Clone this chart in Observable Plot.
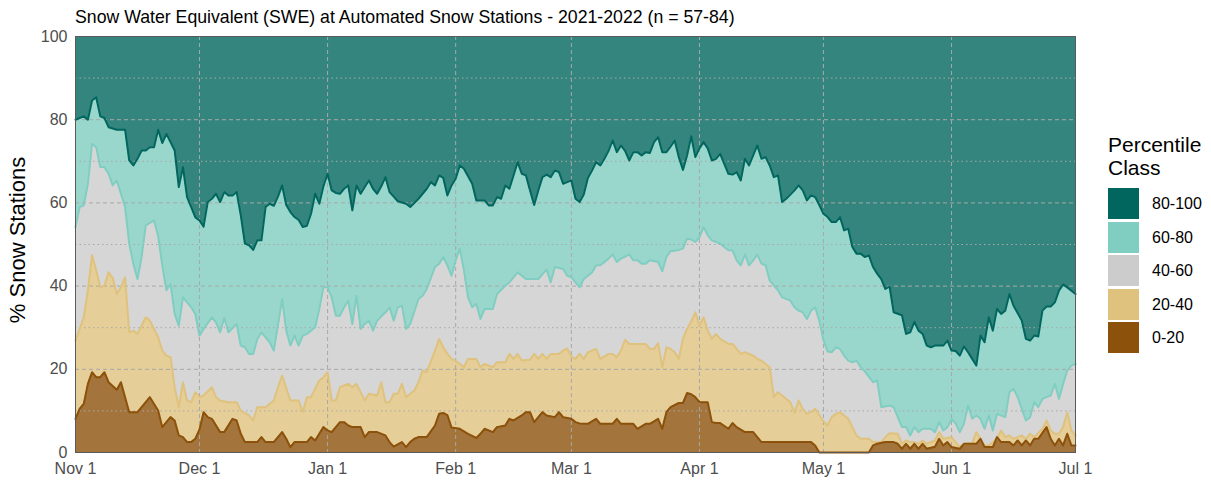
<!DOCTYPE html>
<html><head><meta charset="utf-8">
<script src="https://cdn.jsdelivr.net/npm/d3@7"></script>
<script src="https://cdn.jsdelivr.net/npm/@observablehq/plot@0.6"></script>
<style>
body{margin:0;background:#fff;font-family:"Liberation Sans",Arial,sans-serif;}
#wrap{position:relative;width:1211px;height:480px;overflow:hidden;}
#title{position:absolute;left:75px;top:8px;font-size:17.7px;color:#000;white-space:nowrap;line-height:18px;}
#ylab{position:absolute;left:18px;top:240px;font-size:22px;color:#000;white-space:nowrap;transform:translate(-50%,-50%) rotate(-90deg);}
.lt{position:absolute;left:1108px;font-size:21px;line-height:21px;color:#000;white-space:nowrap;}
.sw{position:absolute;left:1108px;width:31px;height:31px;}
.sl{position:absolute;left:1152px;font-size:16px;line-height:31px;color:#000;white-space:nowrap;}
#chart{position:absolute;left:0;top:0;}
</style></head>
<body><div id="wrap"><div id="chart"></div></div>
<script>
// ---- data: cumulative % of stations at the top of each class (x = days since 2021-11-01)
const startDate = "2021-11-01";
const classes = ["80-100","60-80","40-60","20-40","0-20"];
const classColors = ["#01665e","#80cdc1","#cccccc","#dfc27d","#8c510a"];
const monthTicks = ["2021-11-01","2021-12-01","2022-01-01","2022-02-01","2022-03-01","2022-04-01","2022-05-01","2022-06-01","2022-07-01"];
const yTicks = [0,20,40,60,80,100];
const yMinor = [10,30,50,70,90];

// top of 60-80 class (cumulative 0-80)
const edge80 = [[0,80],[1,80.4],[2,80.8],[3,80],[4,84.6],[5,85.4],[6,80.8],[7,80.4],[8,78.2],[10,77.6],[12,77.6],[13,70.2],[14,69],[15,70.6],[16,72.6],[17,72.6],[18,73.4],[19,73.4],[20,77.6],[21,74.4],[22,76.6],[24,72.6],[25,63.8],[26,68.6],[27,61.4],[28,59],[29,56.5],[30,55.8],[31,54.3],[32,60.2],[33,61],[34,62.2],[35,60.2],[36,62.6],[37,61.8],[38,61.8],[39,62.6],[40,57],[41,50.2],[42,49.8],[43,48.7],[44,51],[45,51],[46,59],[47,59.8],[48,59.3],[49,61.5],[50,64.2],[51,59.5],[52,57.8],[53,56.6],[54,55.9],[55,54.2],[56,54.5],[57,57.4],[58,62.2],[59,59.8],[60,64],[61,67],[62,63],[63,62.4],[64,62.2],[65,63.4],[66,64.2],[67,58.2],[68,64.2],[69,62.2],[70,63.8],[71,65.4],[72,63.4],[73,62.2],[74,64],[75,66.2],[76,62.6],[77,61.5],[78,60.4],[80,59.8],[81,59],[83,61],[85,63.4],[86,65],[87,64.2],[88,66.6],[89,66],[90,61.8],[91,64.2],[92,65.8],[93,69],[94,68.2],[96,64.6],[97,60.6],[99,60.6],[100,59.4],[101,59.4],[102,61.4],[103,61],[104,64.2],[105,63.4],[107,69.8],[108,67],[109,66.6],[110,63],[111,59.5],[112,63],[113,66.2],[114,66.8],[115,66.2],[116,67.8],[117,67.4],[118,64.6],[119,65],[120,65.4],[121,61],[122,60.2],[123,62],[124,66],[125,67.8],[126,69.8],[127,69],[128,70.6],[129,72.5],[130,75],[131,72.2],[132,73.8],[133,72.5],[134,70.2],[135,72.2],[136,72.2],[137,71.4],[138,72.2],[139,72],[140,74.6],[141,75.8],[142,72.2],[143,72.2],[144,73.5],[145,75],[146,71],[147,67.9],[148,71.4],[149,76],[150,71],[151,73.1],[152,74.6],[153,73.1],[154,70.2],[155,70.6],[156,71.8],[157,69.4],[158,67],[159,66.8],[160,67.4],[161,65.4],[162,70.6],[163,69],[164,71.4],[165,73.8],[166,70.6],[167,71],[168,69],[169,66.2],[170,66.6],[171,60.2],[172,61],[173,62],[174,63],[175,64.2],[176,63],[177,60.6],[178,61.8],[179,61.4],[180,59.5],[181,57.4],[182,56.6],[183,55.4],[184,55.4],[185,56.6],[186,53.4],[187,53.8],[188,49.4],[189,47.8],[190,47.8],[191,47],[192,47.4],[193,44.6],[194,43],[195,41.7],[196,39.3],[197,39.9],[198,33.7],[200,33],[201,28.5],[202,28.9],[203,31.4],[204,29.3],[205,28.5],[206,25.7],[207,25.3],[208,25.7],[210,25.7],[211,26.9],[212,24.5],[213,24.4],[214,23.3],[215,25.5],[216,24.1],[217,22.5],[218,20.9],[219,28.1],[220,26.5],[221,32.5],[222,29.3],[223,34.5],[224,33.3],[225,34.1],[226,38.1],[227,35.3],[229,31.7],[230,27.3],[231,26.9],[232,28.1],[233,27.9],[234,34.1],[235,35.1],[236,35.1],[237,36.1],[238,38.9],[239,40.4],[240,39.7],[242,38.1]];

// top of 40-60 class (cumulative 0-60)
const edge60 = [[0,54.2],[1,59],[2,59.4],[3,64.6],[4,74.2],[5,73.4],[6,68.6],[7,68.6],[8,67],[9,64.2],[10,65.4],[12,59],[13,50.2],[14,45.4],[15,41.7],[16,47],[17,54.6],[19,55.8],[20,52],[21,45],[22,39],[23,40.5],[24,33.3],[25,30.5],[26,37.3],[28,34.9],[29,33.3],[30,28.1],[31,29.7],[33,32.5],[34,31.3],[35,28.9],[36,32.4],[37,28.9],[39,30.9],[40,25.7],[41,25.3],[42,23.7],[43,23.7],[44,27.3],[45,28.9],[47,26.5],[48,24.5],[50,36.9],[51,29.3],[52,25.7],[53,28.1],[54,25.7],[55,28.1],[56,28.5],[58,30.1],[59,34.5],[60,39.7],[61,39.7],[62,37.3],[63,32.9],[64,32.9],[65,34.9],[66,36.5],[67,30.9],[68,37.7],[69,29.7],[70,30.9],[71,31.7],[72,29.3],[73,31.7],[75,33.7],[76,34.9],[77,31.7],[78,34.9],[79,35.3],[80,29.7],[81,30.9],[83,36.9],[84,37.7],[85,39.3],[87,44.6],[88,45.4],[89,47],[90,45],[91,42.5],[92,46.2],[93,49],[94,43.8],[95,37.3],[96,34.9],[97,35.7],[98,32.1],[99,34.5],[101,34.5],[102,38.1],[104,40.1],[105,40.9],[107,43.3],[109,41.7],[112,41.7],[114,44],[115,40.9],[116,44.6],[118,44.1],[119,42.5],[120,42.1],[121,40.9],[122,39.7],[123,41.7],[125,43.3],[126,45],[127,45],[129,46.6],[130,47.6],[131,45.8],[132,46.6],[134,47.6],[135,46.2],[136,46.2],[137,45.4],[138,45.4],[139,46.2],[141,45.8],[142,43.6],[143,47],[144,48.4],[146,48.7],[147,49],[148,51.4],[149,51.2],[150,50.6],[151,51.8],[152,54.2],[153,52.2],[154,51],[156,50.2],[157,49.4],[158,48.6],[159,48.6],[160,46.2],[161,45],[162,47.6],[163,45],[164,46.2],[165,47.6],[166,45.4],[167,45],[168,41.3],[170,39],[171,37.3],[173,36.5],[174,34.9],[175,34.1],[176,33.7],[177,32.1],[178,34.1],[179,34.9],[180,31.7],[181,27],[182,24.3],[183,24.1],[184,25.3],[185,24.9],[186,23.3],[187,22.1],[188,21.7],[189,22.1],[190,20.5],[191,19.5],[193,16.9],[194,17.3],[195,10.9],[197,11.3],[198,10.9],[199,8.5],[200,6.1],[201,6.1],[202,4.1],[203,6.1],[204,4.9],[205,5.7],[207,5.7],[208,4.9],[209,7.3],[210,5.3],[211,6.1],[212,8],[213,7],[214,4.9],[215,6.9],[216,11.3],[217,8.1],[218,8.9],[219,8.1],[220,5.7],[221,8.9],[222,5.3],[223,9.3],[225,8.5],[226,14.5],[227,15.3],[228,13.3],[229,10.5],[230,7.7],[231,8.5],[232,12.1],[233,10.9],[234,12.9],[235,13.3],[236,13.7],[237,16.5],[238,12.9],[239,16.5],[240,19.7],[241,20.9],[242,21.3]];

// top of 20-40 class (cumulative 0-40)
const edge40 = [[0,26.9],[2,32.5],[3,39],[4,47.4],[5,43.8],[6,39.7],[7,40.1],[8,43.3],[9,42],[10,38.1],[11,39.7],[12,42.1],[13,28.9],[14,29.3],[15,28.5],[16,30.5],[17,32.5],[18,31.7],[20,27.7],[21,24.5],[22,23.3],[23,22.9],[24,15.7],[25,10.9],[26,16.9],[27,12.5],[28,12.1],[29,14.5],[30,13.3],[31,13.7],[33,15.7],[34,13.3],[35,12.5],[37,12.1],[39,12.1],[40,10.1],[42,8.9],[43,7.7],[44,10.9],[46,10.9],[48,12.5],[49,15.7],[50,18.5],[52,12.5],[54,12.5],[55,9.7],[56,13.3],[57,13.3],[59,17.3],[60,18.1],[61,19.3],[62,12.5],[63,12.5],[64,15.7],[65,16.1],[66,16.5],[67,15.7],[68,16.5],[69,14.5],[70,12.5],[71,14.1],[73,13.7],[74,16.9],[75,12.1],[76,12.1],[77,14.1],[78,14.1],[79,16.5],[80,13.3],[82,14.9],[83,16.9],[84,19.7],[85,19.3],[87,24.5],[88,27.3],[89,25.3],[90,23.7],[91,22.5],[92,22],[93,21.3],[94,20.5],[95,22.5],[97,22.5],[98,20.5],[99,21.3],[101,20.5],[102,21.7],[104,21.7],[105,23.7],[106,22.5],[107,23.7],[108,22.1],[110,22.3],[111,23.7],[112,22.5],[113,23.7],[114,22.5],[115,23.7],[117,23.7],[118,24.5],[119,25],[120,23],[121,22.5],[122,23.7],[123,22.5],[124,24.1],[126,24.9],[127,22.5],[129,23.7],[130,23.7],[131,22.9],[132,24.5],[133,27.1],[134,26.1],[136,26.1],[138,26.1],[139,24.9],[140,24.9],[141,26.3],[142,20.5],[143,25.3],[144,24.9],[145,24.1],[146,22.5],[147,27.3],[148,29.7],[149,31.5],[150,33.7],[151,30.5],[152,32.5],[153,29.3],[154,27.3],[155,28.5],[156,27.3],[158,26.1],[159,26.1],[160,24.9],[161,23.7],[162,24.1],[164,23.3],[165,22.5],[166,22.1],[168,20.5],[169,13.3],[170,14.5],[171,13.7],[173,12.1],[174,9.5],[175,12.5],[176,10.5],[177,9.3],[178,9.7],[179,10.5],[180,9],[181,7.5],[182,6.5],[183,8.5],[184,9.3],[185,9.7],[187,8.1],[188,6.1],[189,4.1],[190,3.3],[192,3.3],[193,2.5],[195,2.5],[196,3.7],[197,4.6],[199,4.5],[200,2.1],[201,2.9],[202,2.5],[203,2.5],[204,2.1],[205,2.9],[206,2.1],[208,2.9],[209,4.9],[210,3.3],[211,3.5],[212,3.7],[213,2.5],[214,1.3],[215,2.1],[217,2.2],[218,4.9],[220,1.7],[221,1.7],[223,3.3],[224,5.3],[225,3.7],[226,4.1],[227,3.3],[229,4.1],[230,3.3],[231,4.5],[232,3.7],[234,5.7],[235,7.7],[236,5.3],[237,4.5],[238,4.5],[239,6.1],[240,9.7],[241,5.3],[242,4.1]];

// top of 0-20 class
const edge20 = [[0,8.1],[1,10.5],[2,11.7],[3,16.5],[4,19.3],[5,18.1],[6,18.1],[7,19.3],[8,16.9],[10,15.1],[11,16.9],[12,13.3],[13,9.7],[15,9.7],[16,10.9],[18,13.3],[20,10.1],[21,6.1],[22,7.3],[23,8.5],[24,7.7],[25,4.1],[26,3.7],[27,2.5],[28,2.5],[29,3.3],[30,5.5],[31,9.7],[32,8.5],[33,8.1],[35,4.9],[36,4.9],[38,8.1],[39,7.7],[40,4.5],[41,2.5],[44,2.5],[45,3.7],[46,2.5],[48,2.5],[50,4.9],[51,3.3],[52,1.3],[53,2.5],[56,2.5],[57,3.7],[58,2.9],[59,4.5],[60,6.1],[61,5.3],[62,4.9],[64,7.3],[65,7.3],[66,6.5],[67,6.1],[69,6.1],[70,3.7],[71,4.9],[73,4.9],[75,4.1],[76,2.5],[77,1.4],[79,2.5],[80,1.3],[81,2.5],[82,3.3],[83,3.7],[85,3.7],[87,6.5],[88,9.3],[89,9.5],[90,9],[91,6],[93,5.7],[95,4.5],[97,3.5],[98,4.5],[99,5.7],[101,4.9],[102,6.1],[104,6.5],[105,8.1],[106,7.7],[108,8.9],[109,9.7],[110,9.7],[111,7.3],[112,8.5],[113,9.7],[114,8.9],[116,8.5],[117,9.7],[118,8.5],[120,8.1],[121,7.3],[122,7],[124,6.9],[125,7.5],[126,8.1],[127,6.9],[130,6.9],[131,8.1],[132,6.9],[135,6.9],[136,5.7],[138,6.9],[139,6.9],[141,8.1],[142,5.7],[143,9.7],[144,10.9],[146,11.9],[147,11.9],[148,14.3],[149,14],[150,13.3],[151,12.1],[153,12.1],[154,7.3],[155,7.1],[156,7.1],[158,5.7],[159,7.1],[160,6.1],[162,4.9],[164,4.9],[166,2.5],[178,2.5],[179,1.7],[180,0],[192,0],[193,1.7],[194,2.1],[196,2.5],[198,2.5],[199,2.1],[200,0.9],[201,2.1],[202,0.9],[203,2.1],[204,0.9],[205,2.1],[206,0.9],[208,1.4],[209,3.3],[210,1.7],[211,2.5],[212,1.3],[214,0.9],[215,2.1],[218,2.1],[219,3.3],[220,1.3],[222,1.3],[223,3.7],[224,2.5],[226,2.5],[227,1.7],[228,2.9],[229,1.7],[230,2.9],[231,1.7],[232,3.3],[233,3.3],[235,6.1],[236,3.3],[237,1.7],[238,3.3],[239,1.7],[240,4.5],[241,1.7],[242,1.7]];

// ---- rendering
const t0 = new Date(startDate + "T00:00:00Z").getTime();
const toDate = d => new Date(t0 + d * 864e5);
const X = d => toDate(d[0]);
const Y = d => d[1];
// fills as they appear (class colour at 80% opacity over white)
const blend = (c, a) => { const k = d3.rgb(c); return d3.rgb(k.r*a+255*(1-a), k.g*a+255*(1-a), k.b*a+255*(1-a)).formatHex(); };
const fills = classColors.map(c => blend(c, 0.8));
const months = monthTicks.map(s => new Date(s + "T00:00:00Z"));
const gridColor = "#a8a8a8";
const lw = 2;

const chart = Plot.plot({
  width: 1211, height: 480,
  marginLeft: 75, marginRight: 136, marginTop: 36, marginBottom: 28,
  style: {fontFamily: '"Liberation Sans", Arial, sans-serif', fontSize: "16px", color: "#4d4d4d", background: "transparent"},
  x: {type: "utc", domain: [months[0], months[months.length-1]], label: null},
  y: {domain: [0, 100], label: null},
  marks: [
    Plot.frame({fill: fills[0], stroke: null}),
    Plot.areaY(edge80, {x: X, y: Y, fill: fills[1]}),
    Plot.areaY(edge60, {x: X, y: Y, fill: fills[2]}),
    Plot.areaY(edge40, {x: X, y: Y, fill: fills[3]}),
    Plot.areaY(edge20, {x: X, y: Y, fill: fills[4]}),
    Plot.ruleY(yMinor, {stroke: gridColor, strokeWidth: 1, strokeDasharray: "1.5,3"}),
    Plot.ruleY(yTicks.slice(1, -1), {stroke: gridColor, strokeWidth: 1, strokeDasharray: "4,3"}),
    Plot.ruleX(months.slice(1, -1), {stroke: gridColor, strokeWidth: 1, strokeDasharray: "4,3"}),
    Plot.lineY(edge60, {x: X, y: Y, stroke: classColors[1], strokeWidth: lw}),
    Plot.lineY(edge80, {x: X, y: Y, stroke: classColors[0], strokeWidth: lw}),
    Plot.lineY(edge40, {x: X, y: Y, stroke: classColors[3], strokeWidth: lw}),
    Plot.lineY(edge20, {x: X, y: Y, stroke: classColors[4], strokeWidth: lw}),
    Plot.frame({stroke: "#5a5a5a", strokeWidth: 1}),
    Plot.axisY(yTicks, {tickSize: 0, tickPadding: 8, fontSize: 16, fill: "#4d4d4d"}),
    Plot.axisX(months, {tickSize: 0, tickPadding: 10, fontSize: 16, fill: "#4d4d4d", tickFormat: d3.utcFormat("%b %-d")})
  ]
});
document.getElementById("chart").appendChild(chart);

const wrap = document.getElementById("wrap");
const add = (cls, id, html, style) => { const e = document.createElement("div"); if (cls) e.className = cls; if (id) e.id = id; e.innerHTML = html; Object.assign(e.style, style || {}); wrap.appendChild(e); return e; };
add(null, "title", "Snow Water Equivalent (SWE) at Automated Snow Stations - 2021-2022 (n = 57-84)");
add(null, "ylab", "% Snow Stations");
add("lt", null, "Percentile", {top: "134px"});
add("lt", null, "Class", {top: "157px"});
classes.forEach((c, i) => {
  const top = 188 + i * 33.6;
  add("sw", null, "", {top: top + "px", background: classColors[i]});
  add("sl", null, c, {top: top + "px"});
});
</script></body></html>
